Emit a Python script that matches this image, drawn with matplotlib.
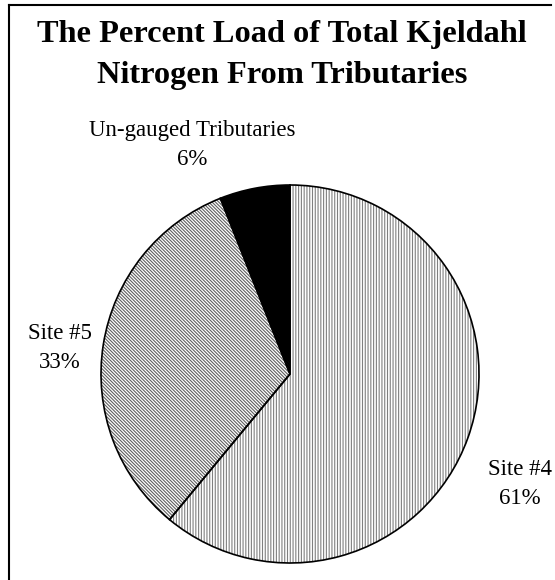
import matplotlib
matplotlib.use("Agg")
import matplotlib.pyplot as plt
from matplotlib.lines import Line2D

plt.rcParams['font.family'] = ['Liberation Serif', 'DejaVu Serif']
plt.rcParams['hatch.linewidth'] = 0.8

title = "The Percent Load of Total Kjeldahl\nNitrogen From Tributaries"
categories = ["Site #4", "Site #5", "Un-gauged Tributaries"]
values = [61, 33, 6]
percent_labels = ["61%", "33%", "6%"]
hatches = ["||||||", "\\" * 10, None]
faces = ["white", "white", "black"]
hatch_colors = ["#808080", "#606060", "black"]

W, H = 555, 580
fig = plt.figure(figsize=(W / 100, H / 100), dpi=100)
fig.patch.set_facecolor("white")

cx, cy, r = 290, 374, 189
ax = fig.add_axes([(cx - r) / W, (H - cy - r) / H, 2 * r / W, 2 * r / H])

# pass 1: fills with hatching
wedges, _ = ax.pie(values, startangle=90, counterclock=False, radius=1,
                   wedgeprops=dict(linewidth=0))
for w, h, fc, hc in zip(wedges, hatches, faces, hatch_colors):
    w.set_facecolor(fc)
    w.set_edgecolor(hc)
    w.set_linewidth(0)
    if h:
        w.set_hatch(h)
# pass 2: black outlines
ax.pie(values, startangle=90, counterclock=False, radius=1,
       wedgeprops=dict(facecolor="none", edgecolor="black", linewidth=1.2))
ax.set_xlim(-1, 1)
ax.set_ylim(-1, 1)
ax.set_aspect("auto")
ax.axis("off")

# frame
fig.add_artist(Line2D([9 / W, 9 / W], [0, 1 - 5 / H], transform=fig.transFigure, color="black", lw=1.5))
fig.add_artist(Line2D([9 / W, 551 / W], [1 - 5 / H, 1 - 5 / H], transform=fig.transFigure, color="black", lw=1.5))

fig.text(282 / W, 1 - 55 / H, title, ha="center", va="center", fontsize=23.3,
         fontweight="bold", linespacing=1.58)

label_pos = [(520, 484), (60, 348), (192, 145)]
for (x, y), c, p in zip(label_pos, categories, percent_labels):
    fig.text(x / W, 1 - y / H, c + "\n" + p, ha="center", va="center", fontsize=16.5,
             linespacing=1.55)

fig.savefig("out.png", dpi=100, facecolor="white")
